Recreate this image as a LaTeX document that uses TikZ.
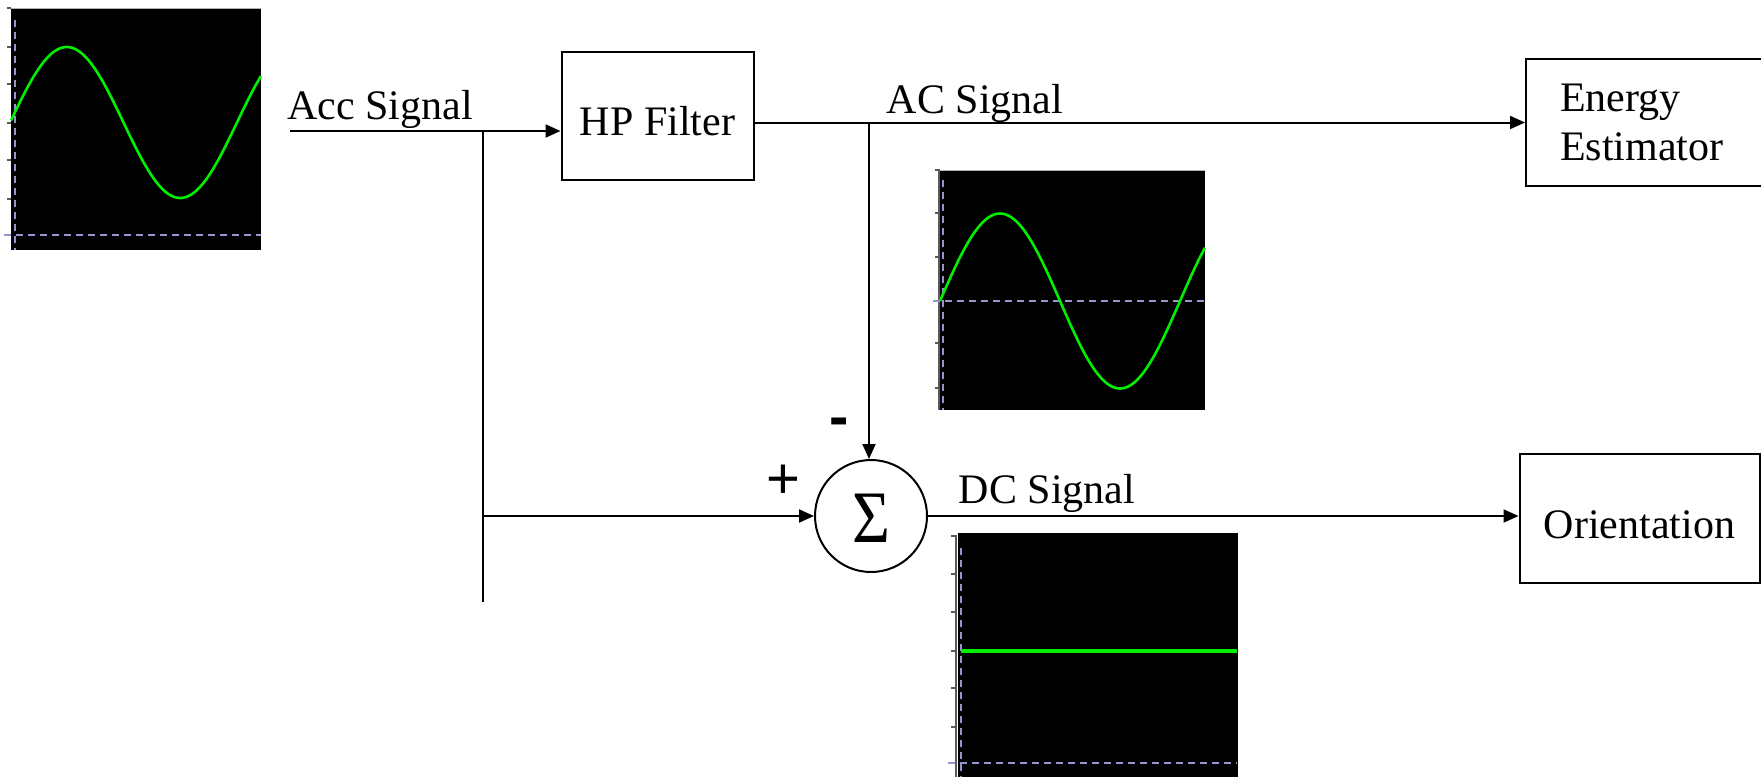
\documentclass[tikz,border=0pt]{standalone}
\usepackage{fontspec}
\setmainfont{Liberation Serif}
\newfontfamily\arialfont{Liberation Sans}
\usetikzlibrary{arrows.meta,calc}
\definecolor{dashc}{RGB}{150,150,205}
\definecolor{sigg}{RGB}{0,240,0}
\definecolor{tickc}{RGB}{90,90,90}
\begin{document}
\begin{tikzpicture}[x=1pt,y=-1pt,
  box/.style={draw, line width=2pt, inner sep=0pt, font=\fontsize{42}{49}\selectfont},
  lbl/.style={font=\fontsize{42}{49}\selectfont, inner sep=0pt, anchor=base},
  sgn/.style={font=\arialfont\fontsize{58}{60}\selectfont, inner sep=0pt},
  wire/.style={line width=2pt},
  conn/.style={line width=2pt, -{Triangle[length=15pt,width=13pt]}},
  dashax/.style={draw=dashc, line width=1.8pt, dash pattern=on 7pt off 5pt},
  wave/.style={draw=sigg, line width=2.6pt, line join=round},
  tickm/.style={draw=tickc, line width=1.3pt}]
\clip (0,0) rectangle (1761,777);
\fill[white] (0,0) rectangle (1761,777);

% ---------- plot 1 (Acc signal) ----------
\fill[black] (11,8) rectangle (261,250);
\draw[draw=gray!60, line width=1pt] (11,8) -- (261,8);
\foreach \yy in {8,47,84,123,160,199} \draw[tickm] (7,\yy) -- (11,\yy);
\draw[dashax] (15,20) -- (15,250);
\draw[dashax] (4,235) -- (261,235);
\draw[wave] plot[domain=11:261, samples=120] (\x,{122.5-75.5*sin((\x-10)/227*360)});

% ---------- plot 2 (AC signal) ----------
\fill[black] (940,170) rectangle (1205,410);
\draw[draw=gray!60, line width=1pt] (940,170) -- (1205,170);
\draw[draw=tickc, line width=1.3pt] (939,170) -- (939,410);
\foreach \yy in {170,213,257,301,343,388} \draw[tickm] (935,\yy) -- (940,\yy);
\draw[dashax] (943,180) -- (943,410);
\draw[dashax] (933,301) -- (1205,301);
\draw[wave] plot[domain=940:1205, samples=120] (\x,{301-87.5*sin((\x-940)/240*360)});

% ---------- plot 3 (DC signal) ----------
\fill[black] (958,533) rectangle (1238,777);
\draw[draw=tickc, line width=1.3pt] (956,536) -- (956,777);
\foreach \yy in {536,574,612,651,688,727} \draw[tickm] (951,\yy) -- (957,\yy);
\draw[dashax] (961,548) -- (961,777);
\draw[dashax] (948,763) -- (1237,763);
\draw[draw=sigg, line width=4.2pt] (961,651) -- (1237,651);

% ---------- blocks ----------
\node[box, minimum width=192pt, minimum height=128pt, text height=39pt, text depth=0pt] (hp) at (657.5,115.7) {HP Filter};
\node[box, anchor=west, minimum height=127pt, text width=197pt, inner xsep=34pt, align=left]
  (energy) at (1525,122.5) {Energy\\Estimator};
\node[box, minimum width=240pt, minimum height=129pt, text height=39.5pt, text depth=0pt] (orient) at (1639.5,518.5) {Orientation};
\node[draw, circle, line width=2pt, minimum size=112pt, inner sep=0pt] (sum) at (871,516) {};
\node[inner sep=0pt] (sigma) at (871,518) {\scalebox{0.88}[1]{\fontsize{74}{74}\selectfont Σ}};

% ---------- labels ----------
\node[lbl] (lacc) at (380,119.3) {Acc Signal};
\node[lbl] (lac) at (975,113.5) {AC Signal};
\node[lbl] (ldc) at (1047,503) {DC Signal};
\node[sgn] (plus) at (783,482) {+};
\node[sgn, font=\arialfont\bfseries\fontsize{58}{60}\selectfont] (minus) at (839,427) {-};

% ---------- connectors ----------
\coordinate (accstart) at (290,131);
\coordinate (br) at (483,131);
\coordinate (brmid) at (483,516);
\coordinate (brbot) at (483,602);
\coordinate (acbr) at (869,122.5);
\draw[conn] (accstart) -- (accstart -| hp.west);
\draw[wire] (br) -- (brbot);
\draw[conn] (brmid) -- (sum.west);
\draw[conn] (hp.east |- energy.west) -- (energy.west);
\draw[conn] (acbr) -- (acbr |- sum.north);
\draw[conn] (sum.east) -- (sum.east -| orient.west);
\end{tikzpicture}
\end{document}
